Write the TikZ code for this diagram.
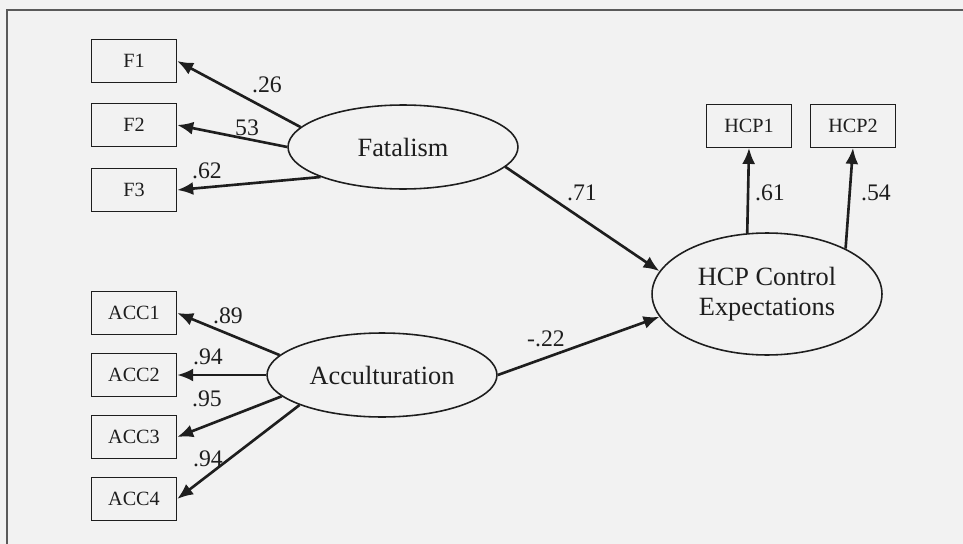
\documentclass[tikz,border=0pt]{standalone}
\usepackage{fontspec}
\setmainfont{Liberation Serif}
\usetikzlibrary{arrows.meta,positioning,shapes.geometric}
\definecolor{paper}{HTML}{F2F2F2}
\definecolor{ink}{HTML}{1E1E1E}
\definecolor{rule}{HTML}{5A5A5A}

\begin{document}
\begin{tikzpicture}[
  x=0.02cm, y=-0.02cm,
  >={Latex[length=3.2mm,width=2.6mm]},
  every node/.style={text=ink},
  ind/.style={rectangle,draw=ink,line width=0.8pt,minimum width=1.7cm,minimum height=0.85cm,inner sep=0pt,font=\fontsize{11.5}{13}\selectfont},
  lat/.style={ellipse,draw=ink,line width=0.9pt,minimum width=4.6cm,minimum height=1.68cm,inner sep=0pt,align=center,font=\fontsize{15}{17}\selectfont},
  load/.style={->,draw=ink,line width=1.5pt},
  coef/.style={inner sep=0pt,font=\fontsize{13.5}{15}\selectfont}
]
  \fill[paper] (0,0) rectangle (963,544);
  \useasboundingbox (0,0) rectangle (963,544);
  \draw[rule,line width=1pt] (963,10) -- (7,10) -- (7,544);

  % indicators
  \node[ind] (f1) at (134,61) {F1};
  \node[ind] (f2) at (134,125) {F2};
  \node[ind] (f3) at (134,190) {F3};
  \node[ind] (acc1) at (134,313) {ACC1};
  \node[ind] (acc2) at (134,375) {ACC2};
  \node[ind] (acc3) at (134,437) {ACC3};
  \node[ind] (acc4) at (134,499) {ACC4};
  \node[ind] (hcp1) at (749,126) {HCP1};
  \node[ind] (hcp2) at (853,126) {HCP2};

  % latent variables
  \node[lat] (fat) at (403,147) {Fatalism};
  \node[lat] (acc) at (382,375) {Acculturation};
  \node[lat,minimum height=2.44cm] (hcp) at (767,294) {HCP Control\\Expectations};

  \draw[load] (fat.169) -- (f1.east);
  \draw[load] (fat.180) -- (f2.east);
  \draw[load] (fat.200) -- (f3.east);
  \draw[load] (acc.169) -- (acc1.east);
  \draw[load] (acc.180) -- (acc2.east);
  \draw[load] (acc.192) -- (acc3.east);
  \draw[load] (acc.200) -- (acc4.east);
  \draw[load] (fat.-11) -- (hcp.168);
  \draw[load] (acc.east) -- (hcp.192);
  \draw[load] (hcp.108) -- (hcp1.south);
  \draw[load] (hcp.30) -- (hcp2.south);

  % coefficients
  \node[coef] (w26) at (267,85) {.26};
  \node[coef] (w53) at (247,128) {53};
  \node[coef] (w62) at (207,171) {.62};
  \node[coef] (w89) at (228,316) {.89};
  \node[coef] (w94a) at (208,357) {.94};
  \node[coef] (w95) at (207,399) {.95};
  \node[coef] (w94b) at (208,459) {.94};
  \node[coef] (w71) at (582,193) {.71};
  \node[coef] (w22) at (546,339) {-.22};
  \node[coef] (w61) at (770,193) {.61};
  \node[coef] (w54) at (876,193) {.54};
\end{tikzpicture}
\end{document}
